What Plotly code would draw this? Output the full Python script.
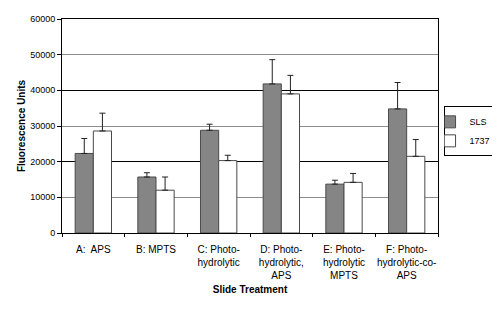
import plotly.graph_objects as go

categories = ["A:  APS", "B: MPTS", "C: Photo-<br>hydrolytic", "D: Photo-<br>hydrolytic,<br>APS",
              "E: Photo-<br>hydrolytic<br>MPTS", "F: Photo-<br>hydrolytic-co-<br>APS"]
sls_values = [22300, 15700, 28800, 41800, 13700, 34800]
sls_errors = [4200, 1200, 1700, 6800, 1100, 7400]
v1737_values = [28600, 12000, 20300, 39000, 14200, 21500]
v1737_errors = [5000, 3700, 1500, 5200, 2500, 4700]

font_family = "Arial, Liberation Sans, sans-serif"

fig = go.Figure()
fig.add_trace(go.Bar(
    name="SLS", x=categories, y=sls_values,
    marker=dict(color="#858585", line=dict(color="#4a4a4a", width=1)),
    error_y=dict(type="data", array=sls_errors, symmetric=False,
                 arrayminus=[0] * len(sls_errors), color="#222", thickness=1, width=3),
))
fig.add_trace(go.Bar(
    name="1737", x=categories, y=v1737_values,
    marker=dict(color="#ffffff", line=dict(color="#4a4a4a", width=1)),
    error_y=dict(type="data", array=v1737_errors, symmetric=False,
                 arrayminus=[0] * len(v1737_errors), color="#222", thickness=1, width=3),
))
# invisible helper trace to carry the black grid axis
fig.add_trace(go.Scatter(x=categories, y=[None] * len(categories), yaxis="y2",
                         showlegend=False, hoverinfo="skip"))

# page has an 8px body margin, so figure is 492x303 placed at (8, 8)
fig.update_layout(
    width=492, height=303,
    margin=dict(l=54, r=62, t=11, b=78, autoexpand=False),
    paper_bgcolor="white", plot_bgcolor="white",
    font=dict(family=font_family, size=9, color="black"),
    barmode="group", bargap=0.42, bargroupgap=0,
    showlegend=True,
    legend=dict(xref="container", x=0.993, y=0.475, xanchor="right", yanchor="middle",
                bordercolor="black", borderwidth=1, bgcolor="white",
                font=dict(size=9), itemwidth=30, tracegroupgap=0,
                indentation=-15, traceorder="normal"),
    xaxis=dict(
        title=dict(text="<b>Slide Treatment</b>", font=dict(size=10), standoff=5),
        showline=True, linecolor="black", linewidth=1, mirror=True,
        ticks="outside", ticklen=3, tickcolor="black", tickson="boundaries",
        tickfont=dict(size=10), tickangle=0, automargin=False,
        ticklabelstandoff=7,
    ),
    yaxis=dict(
        title=dict(text="<b>Fluorescence Units</b>", font=dict(size=10), standoff=2),
        range=[0, 60000], dtick=10000, tickformat="d",
        showline=True, linecolor="black", linewidth=1, mirror=True,
        ticks="outside", ticklen=4, tickcolor="black",
        showgrid=True, gridcolor="#8c8c8c", gridwidth=1, zeroline=False,
        tickfont=dict(size=9), automargin=False,
    ),
    yaxis2=dict(
        overlaying="y", range=[0, 60000], dtick=20000,
        showgrid=True, gridcolor="black", gridwidth=1,
        showticklabels=False, zeroline=False, showline=False, ticks="",
        automargin=False,
    ),
)

fig.write_html("out.html")
